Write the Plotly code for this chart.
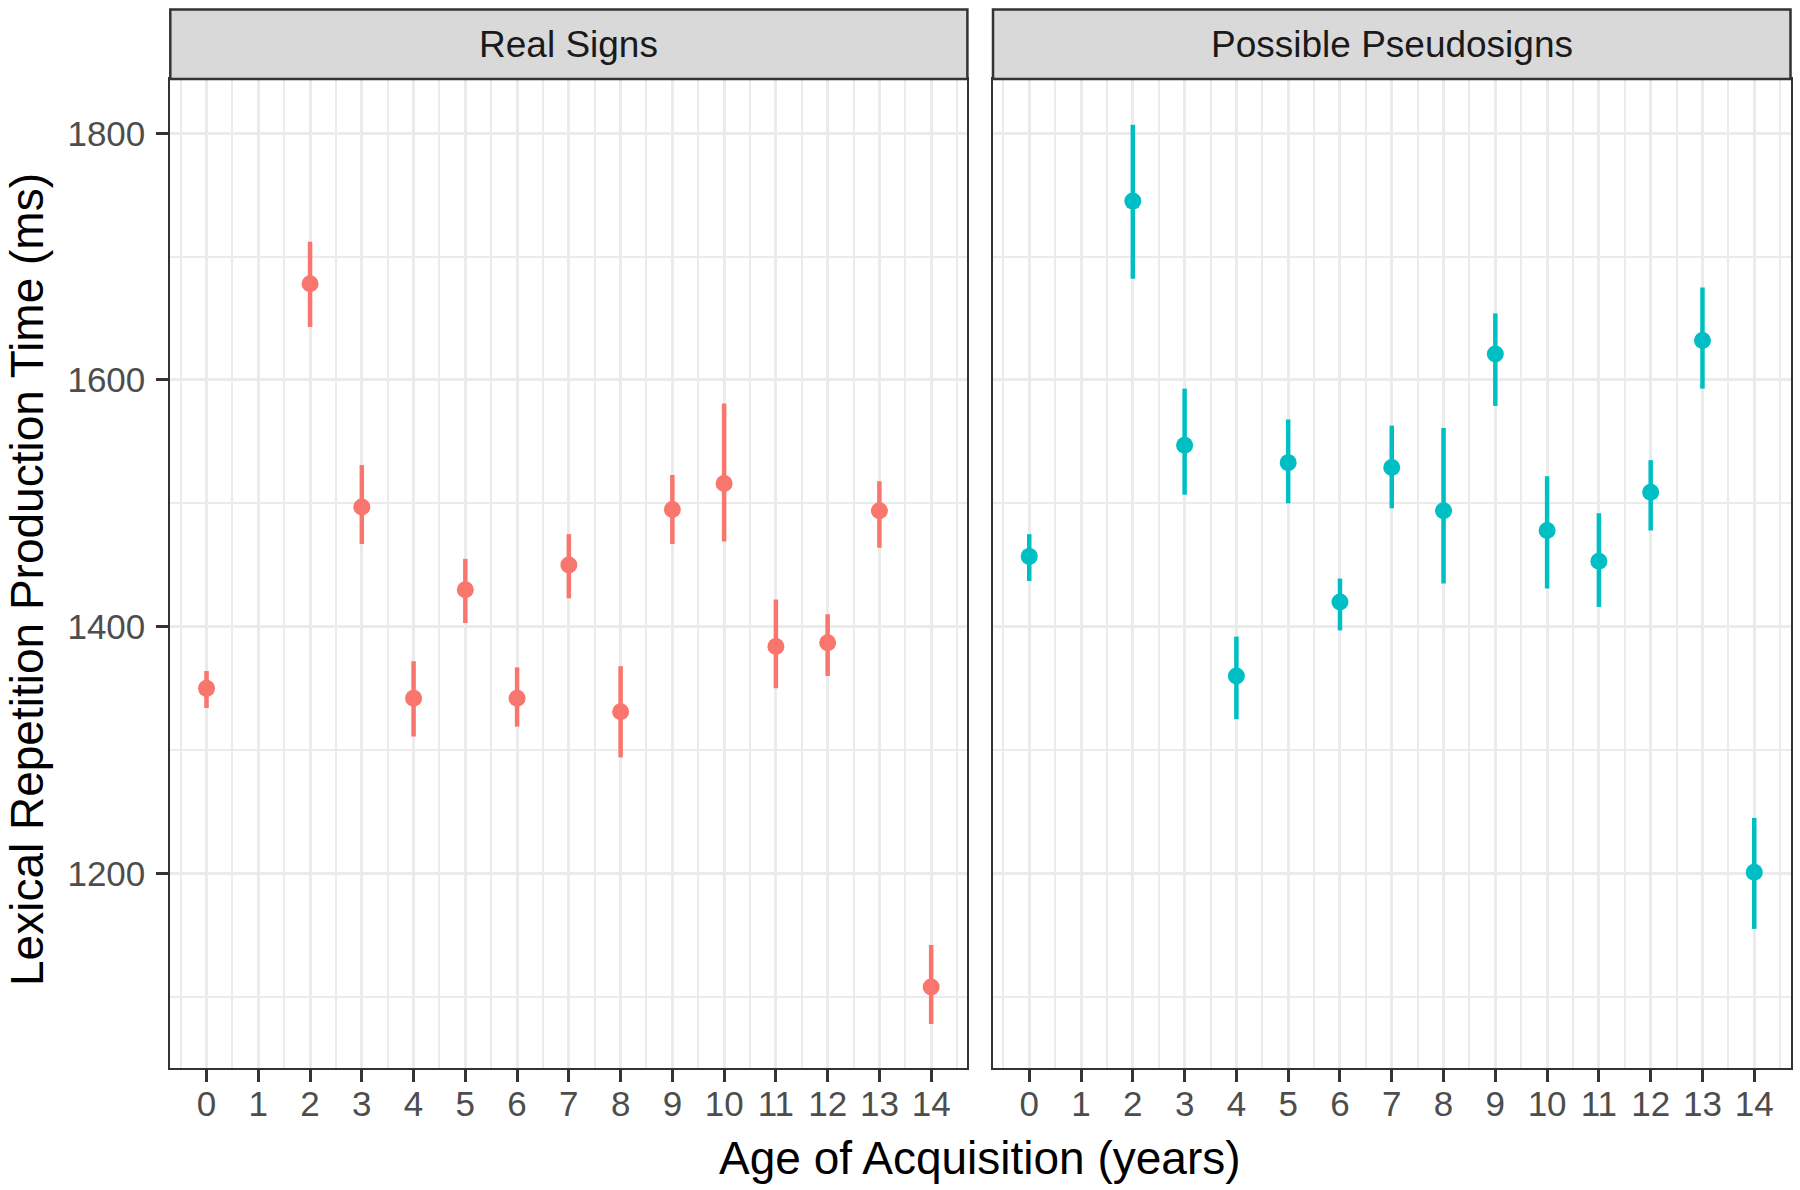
import plotly.graph_objects as go

# ---- data ----
age = [0, 2, 3, 4, 5, 6, 7, 8, 9, 10, 11, 12, 13, 14]

real_mean  = [1350, 1678, 1497, 1342, 1430, 1342, 1450, 1331, 1495, 1516, 1384, 1387, 1494, 1108]
real_lower = [1334, 1643, 1467, 1311, 1403, 1319, 1423, 1294, 1467, 1469, 1350, 1360, 1464, 1078]
real_upper = [1364, 1712, 1531, 1372, 1455, 1367, 1475, 1368, 1523, 1581, 1422, 1410, 1518, 1142]

pseudo_mean  = [1457, 1745, 1547, 1360, 1533, 1420, 1529, 1494, 1621, 1478, 1453, 1509, 1632, 1201]
pseudo_lower = [1437, 1682, 1507, 1325, 1500, 1397, 1496, 1435, 1579, 1431, 1416, 1478, 1593, 1155]
pseudo_upper = [1475, 1807, 1593, 1392, 1568, 1439, 1563, 1561, 1654, 1522, 1492, 1535, 1675, 1245]

panel_titles = ["Real Signs", "Possible Pseudosigns"]
x_ticks = list(range(0, 15))
y_ticks = [1200, 1400, 1600, 1800]
x_title = "Age of Acquisition (years)"
y_title = "Lexical Repetition Production Time (ms)"

RED = "#F8766D"
TEAL = "#00BFC4"
W, H = 1800, 1190
FONT = "Liberation Sans, Arial, sans-serif"

def px(x):
    return x / W

def py(y):
    return 1 - y / H

fig = go.Figure()

def add_series(mean, lower, upper, color, xa, ya):
    fig.add_trace(go.Scatter(
        x=age, y=mean, mode="markers",
        marker=dict(color=color, size=17, line=dict(width=0)),
        error_y=dict(type="data", symmetric=False,
                     array=[u - m for u, m in zip(upper, mean)],
                     arrayminus=[m - l for m, l in zip(mean, lower)],
                     width=0, thickness=4.5, color=color),
        xaxis=xa, yaxis=ya, showlegend=False, hoverinfo="x+y"))

add_series(real_mean, real_lower, real_upper, RED, "x", "y")
add_series(pseudo_mean, pseudo_lower, pseudo_upper, TEAL, "x2", "y2")

left_dom = [px(170.3), px(967.4)]
right_dom = [px(993.0), px(1790.5)]
plot_top, plot_bot = 79.0, 1068.3
strip_top = 9.5
y_dom = [py(plot_bot), py(plot_top)]

grid = "#EBEBEB"
frame = "#333333"

xcommon = dict(range=[-0.7, 14.7], tickmode="array", tickvals=x_ticks,
               ticktext=[str(v) for v in x_ticks],
               showgrid=True, gridcolor=grid, gridwidth=3,
               minor=dict(tickmode="array", tickvals=[v + 0.5 for v in range(-1, 15)],
                          showgrid=True, gridcolor=grid, gridwidth=1.6, ticks=""),
               zeroline=False, showline=True, linecolor=frame, linewidth=2, mirror=True,
               ticks="outside", ticklen=12, tickwidth=3, tickcolor=frame,
               tickfont=dict(family=FONT, size=35, color="#4D4D4D"),
               ticklabelstandoff=-8)

ycommon = dict(range=[1042, 1844], tickmode="array", tickvals=y_ticks,
               showgrid=True, gridcolor=grid, gridwidth=3,
               minor=dict(tickmode="array", tickvals=[1100, 1300, 1500, 1700],
                          showgrid=True, gridcolor=grid, gridwidth=1.6, ticks=""),
               zeroline=False, showline=True, linecolor=frame, linewidth=2, mirror=True,
               domain=y_dom)

fig.update_layout(
    width=W, height=H,
    margin=dict(l=0, r=0, t=0, b=0),
    paper_bgcolor="white", plot_bgcolor="white",
    font=dict(family=FONT),
    xaxis=dict(xcommon, domain=left_dom, anchor="y"),
    xaxis2=dict(xcommon, domain=right_dom, anchor="y2"),
    yaxis=dict(ycommon, anchor="x", ticks="outside", ticklen=12, tickwidth=3,
               tickcolor=frame, ticklabelstandoff=4,
               tickfont=dict(family=FONT, size=35, color="#4D4D4D")),
    yaxis2=dict(ycommon, anchor="x2", matches="y", showticklabels=False, ticks=""),
)

# strips
for dom, title in zip([left_dom, right_dom], panel_titles):
    fig.add_shape(type="rect", xref="paper", yref="paper",
                  x0=dom[0], x1=dom[1], y0=py(plot_top), y1=py(strip_top),
                  fillcolor="#D9D9D9", line=dict(color=frame, width=2.5), layer="above")
    fig.add_annotation(xref="paper", yref="paper",
                       x=(dom[0] + dom[1]) / 2, y=py((plot_top + strip_top) / 2),
                       text=title, showarrow=False, xanchor="center", yanchor="middle",
                       font=dict(family=FONT, size=37, color="#1A1A1A"))

# axis titles
fig.add_annotation(xref="paper", yref="paper", x=px(980), y=py(1158),
                   text=x_title, showarrow=False, xanchor="center", yanchor="middle",
                   font=dict(family=FONT, size=46, color="black"))
fig.add_annotation(xref="paper", yref="paper", x=px(27), y=py(580),
                   text=y_title, showarrow=False, xanchor="center", yanchor="middle",
                   textangle=-90, font=dict(family=FONT, size=46, color="black"))

fig.write_html("out.html")
